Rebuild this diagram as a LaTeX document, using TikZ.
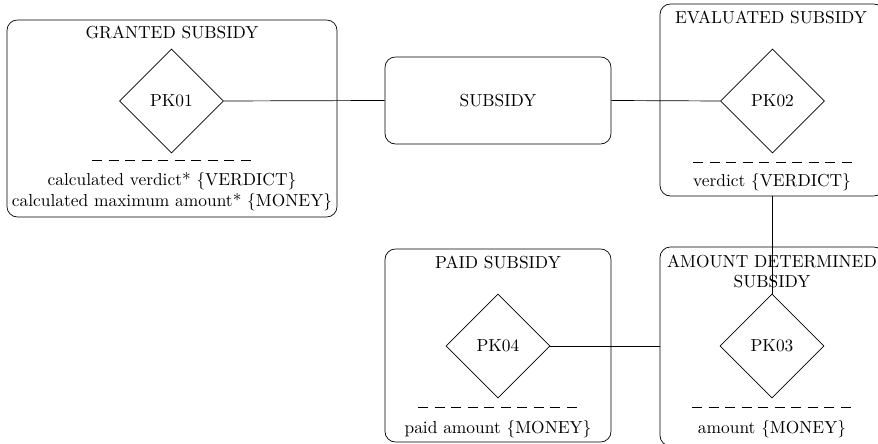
\documentclass[tikz,border=0pt]{standalone}
\usetikzlibrary{shapes.geometric}
\newcommand{\pxl}{0.575pt}
\begin{document}
\begin{tikzpicture}[x=\pxl,y=-\pxl,
  entity/.style={draw,rounded corners=6pt,inner sep=0pt},
  keybox/.style={draw,diamond,aspect=1,inner sep=0pt,
    minimum width=104*\pxl,minimum height=104*\pxl},
  caption/.style={inner sep=0pt,align=center},
  attrsep/.style={dash pattern=on 5.75pt off 3.77pt}]
\useasboundingbox (0,0) rectangle (878,444);

% GRANTED SUBSIDY
\node[entity,minimum width=330*\pxl,minimum height=197*\pxl] (granted) at (172,118.5) {};
\node[caption] (grantedT) at (172,32) {GRANTED SUBSIDY};
\node[keybox] (pk01) at (171.5,101) {PK01};
\draw[attrsep] (92,160) -- (251,160);
\node[caption] (grantedA) at (172,192) {calculated verdict* \{VERDICT\}\\calculated maximum amount* \{MONEY\}};

% SUBSIDY
\node[entity,minimum width=226*\pxl,minimum height=87*\pxl] (subsidy) at (498,100.5) {SUBSIDY};

% EVALUATED SUBSIDY
\node[entity,minimum width=224*\pxl,minimum height=192*\pxl] (evaluated) at (772,100) {};
\node[caption] (evaluatedT) at (771,17) {EVALUATED SUBSIDY};
\node[keybox] (pk02) at (772.5,101) {PK02};
\draw[attrsep] (693,162) -- (852,162);
\node[caption] (evaluatedA) at (772,182) {verdict \{VERDICT\}};

% PAID SUBSIDY
\node[entity,minimum width=226*\pxl,minimum height=193*\pxl] (paid) at (498,345.5) {};
\node[caption] (paidT) at (498,262) {PAID SUBSIDY};
\node[keybox] (pk04) at (498,346) {PK04};
\draw[attrsep] (418,407) -- (577,407);
\node[caption] (paidA) at (498,429) {paid amount \{MONEY\}};

% AMOUNT DETERMINED SUBSIDY
\node[entity,minimum width=224*\pxl,minimum height=199*\pxl] (amount) at (772,346.5) {};
\node[caption] (amountT) at (772,271.5) {AMOUNT DETERMINED\\SUBSIDY};
\node[keybox] (pk03) at (772,346) {PK03};
\draw[attrsep] (692,407) -- (851,407);
\node[caption] (amountA) at (772,429) {amount \{MONEY\}};

% connectors
\draw (pk01.east) -- (subsidy.west);
\draw (subsidy.east) -- (pk02.west);
\draw (evaluated.south) -- (pk03.north);
\draw (pk04.east) -- (pk04.east -| amount.west);
\end{tikzpicture}
\end{document}
